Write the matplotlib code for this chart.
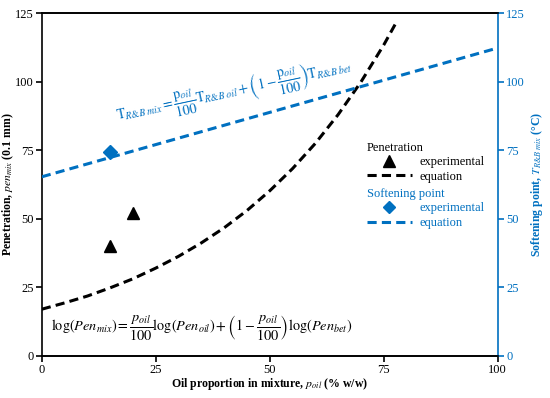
import matplotlib
matplotlib.use("Agg")
import matplotlib.pyplot as plt
from matplotlib.lines import Line2D

plt.rcParams['font.family'] = ['Liberation Serif', 'DejaVu Serif']
plt.rcParams['mathtext.fontset'] = 'stix'
plt.rcParams['font.size'] = 9

BLUE = "#0070C0"

# data
pen_exp_x = [15, 20]
pen_exp_y = [40, 52]
pen_eq_x = [0, 5, 10, 15, 20, 25, 30, 35, 40, 45, 50, 55, 60, 65, 70, 75, 78]
pen_eq_y = [17, 19.3, 21.8, 24.8, 28.1, 32.0, 36.3, 41.2, 46.7, 53.0, 60.2,
            68.3, 77.5, 88.0, 99.9, 113.4, 122.4]
sp_exp_x = [15]
sp_exp_y = [74.5]
sp_eq_x = [0, 100]
sp_eq_y = [65.3, 112.3]
ticks = [0, 25, 50, 75, 100, 125]
xticks = [0, 25, 50, 75, 100]

fig = plt.figure(figsize=(5.5, 3.98), dpi=100)
ax = fig.add_axes([0.076, 0.106, 0.829, 0.861])
ax2 = ax.twinx()

ax.plot(pen_exp_x, pen_exp_y, ls='none', marker='^', color='black', ms=9)
ax.plot(pen_eq_x, pen_eq_y, color='black', lw=2.2, dashes=(3, 1.7))
ax2.plot(sp_exp_x, sp_exp_y, ls='none', marker='D', color=BLUE, ms=7)
ax2.plot(sp_eq_x, sp_eq_y, color=BLUE, lw=2.2, dashes=(3, 1.7))

ax.set_xlim(0, 100)
ax.set_ylim(0, 125)
ax2.set_ylim(0, 125)
ax.set_xticks(xticks)
ax.set_yticks(ticks)
ax2.set_yticks(ticks)

for a in (ax, ax2):
    for s in a.spines.values():
        s.set_linewidth(1.2)
ax2.spines['right'].set_color(BLUE)
ax2.spines['left'].set_visible(False)
ax.spines['right'].set_visible(False)
ax.tick_params(axis='both', direction='out', length=4, width=1.2, pad=2)
ax2.tick_params(axis='y', direction='out', length=4, width=1.2, colors=BLUE, pad=2)

ax.set_xlabel("Oil proportion in mixture, $p_{oil}$ (% w/w)", fontweight='bold',
              fontsize=8.5)
ax.set_ylabel("Penetration, $pen_{mix}$ (0.1 mm)", fontweight='bold',
              fontsize=8.5)
ax2.set_ylabel("Softening point, $T_{R&B\\ mix}$ (\u00b0C)", fontweight='bold',
               fontsize=8.5, color=BLUE, labelpad=3)
ax.xaxis.set_label_coords(0.5, -0.059)
ax.yaxis.set_label_coords(-0.057, 0.5)

ax.text(2, 10.5, r"$\log(Pen_{mix}) = \dfrac{p_{oil}}{100}\log(Pen_{oil}) + \left(1 - \dfrac{p_{oil}}{100}\right)\log(Pen_{bet})$",
        fontsize=10.3, color='black', va='center', ha='left')
ax2.text(16.7, 85.8, r"$\mathrm{T}_{R&B\ mix} = \dfrac{\mathrm{p}_{oil}}{100}\mathrm{T}_{R&B\ oil} + \left(1 - \dfrac{\mathrm{p}_{oil}}{100}\right)\mathrm{T}_{R&B\ bet}$",
         fontsize=10, color=BLUE, va='baseline', ha='left', rotation=12,
         rotation_mode='anchor')

h1 = [Line2D([], [], ls='none', marker='^', color='black', ms=8),
      Line2D([], [], color='black', lw=2.2, dashes=(3, 1.7))]
h2 = [Line2D([], [], ls='none', marker='D', color=BLUE, ms=6),
      Line2D([], [], color=BLUE, lw=2.2, dashes=(3, 1.7))]
leg1 = ax2.legend(h1, ["experimental", "equation"], title="Penetration",
                  loc='upper left', bbox_to_anchor=(0.713, 0.625), frameon=False,
                  alignment='left', handlelength=3.6, handletextpad=0.6,
                  borderpad=0, borderaxespad=0, labelspacing=0.2, fontsize=9,
                  title_fontsize=9)
ax2.add_artist(leg1)
leg2 = ax2.legend(h2, ["experimental", "equation"], title="Softening point",
                  loc='upper left', bbox_to_anchor=(0.713, 0.49), frameon=False,
                  alignment='left', handlelength=3.6, handletextpad=0.6,
                  borderpad=0, borderaxespad=0, labelspacing=0.2, fontsize=9,
                  title_fontsize=9)
leg2.get_title().set_color(BLUE)
for t in leg2.get_texts():
    t.set_color(BLUE)

fig.savefig("out.png", dpi=100)
